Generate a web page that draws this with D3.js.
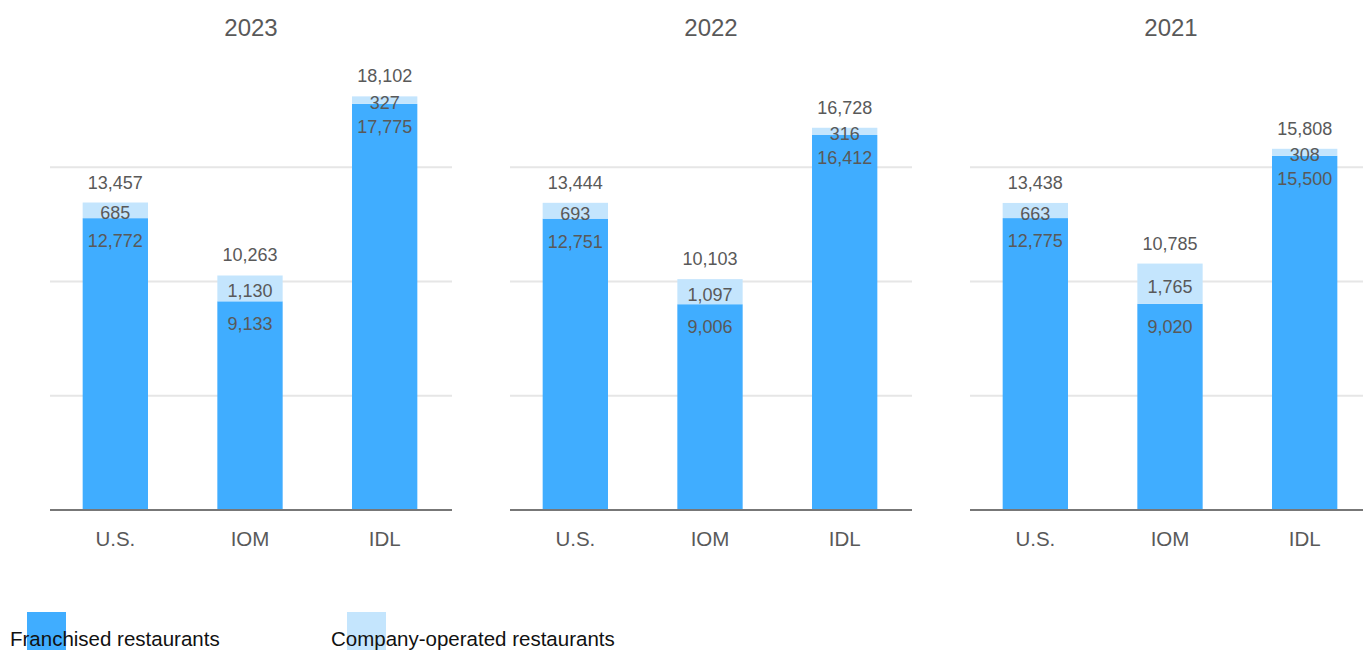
<!DOCTYPE html>
<html>
<head>
<meta charset="utf-8">
<script src="https://cdn.jsdelivr.net/npm/d3@7"></script>
<style>
  html, body { margin: 0; padding: 0; background: #fff; overflow: hidden; }
  svg { display: block; font-family: "Liberation Sans", Arial, sans-serif; }
</style>
</head>
<body>
<svg id="chart" width="1363" height="650"></svg>
<script>
const years = ["2023", "2022", "2021"];
const categories = ["U.S.", "IOM", "IDL"];
const franchised = [
  [12772, 9133, 17775],
  [12751, 9006, 16412],
  [12775, 9020, 15500]
];
const companyOperated = [
  [685, 1130, 327],
  [693, 1097, 316],
  [663, 1765, 308]
];
const totals = [
  [13457, 10263, 18102],
  [13444, 10103, 16728],
  [13438, 10785, 15808]
];
const gridTicks = [5000, 10000, 15000];
const legendLabels = ["Franchised restaurants", "Company-operated restaurants"];

const colFr = "#40adff";
const colCo = "#c4e5fd";
const textCol = "#595959";
const fmt = d3.format(",");

const svg = d3.select("#chart");
const panelLefts = [50, 510, 970];
const panelWidth = 402;

const y = d3.scaleLinear().domain([0, 20000]).range([510, 53]);

years.forEach((yr, pi) => {
  const x0 = panelLefts[pi];
  const x = d3.scaleBand().domain(categories).range([x0, x0 + panelWidth])
    .paddingInner(0.515).paddingOuter(0.25);
  const g = svg.append("g");

  g.append("text").attr("x", x0 + panelWidth / 2).attr("y", 27)
    .attr("text-anchor", "middle").attr("dominant-baseline", "central")
    .attr("font-size", 24).attr("fill", textCol).text(yr);

  g.selectAll("line.grid").data(gridTicks).join("line")
    .attr("x1", x0).attr("x2", x0 + panelWidth)
    .attr("y1", d => y(d)).attr("y2", d => y(d))
    .attr("stroke", "#e6e6e6").attr("stroke-width", 2);

  categories.forEach((c, ci) => {
    const fr = franchised[pi][ci];
    const co = companyOperated[pi][ci];
    const tot = totals[pi][ci];
    const bx = x(c) - 1, bw = x.bandwidth(), cx = bx + bw / 2;
    g.append("rect").attr("x", bx).attr("width", bw)
      .attr("y", y(fr)).attr("height", y(0) - y(fr)).attr("fill", colFr);
    g.append("rect").attr("x", bx).attr("width", bw)
      .attr("y", y(fr + co)).attr("height", y(fr) - y(fr + co)).attr("fill", colCo);

    g.append("text").attr("x", cx).attr("y", y(fr) + 23)
      .attr("text-anchor", "middle").attr("dominant-baseline", "central")
      .attr("font-size", 18).attr("fill", textCol).text(fmt(fr));
    g.append("text").attr("x", cx).attr("y", (y(fr) + y(fr + co)) / 2 + 3)
      .attr("text-anchor", "middle").attr("dominant-baseline", "central")
      .attr("font-size", 18).attr("fill", textCol).text(fmt(co));
    g.append("text").attr("x", cx).attr("y", y(tot) - 20)
      .attr("text-anchor", "middle").attr("dominant-baseline", "central")
      .attr("font-size", 18).attr("fill", textCol).text(fmt(tot));

    g.append("text").attr("x", cx).attr("y", 538)
      .attr("text-anchor", "middle").attr("dominant-baseline", "central")
      .attr("font-size", 20.5).attr("fill", textCol).text(c);
  });

  g.append("line").attr("x1", x0).attr("x2", x0 + panelWidth)
    .attr("y1", y(0)).attr("y2", y(0))
    .attr("stroke", "#777").attr("stroke-width", 2);
});

const legendItems = [
  { label: legendLabels[0], color: colFr, sx: 27, tx: 10 },
  { label: legendLabels[1], color: colCo, sx: 347, tx: 331 }
];
const lg = svg.append("g");
lg.selectAll("rect").data(legendItems).join("rect")
  .attr("x", d => d.sx).attr("y", 612).attr("width", 39).attr("height", 40)
  .attr("fill", d => d.color);
lg.selectAll("text").data(legendItems).join("text")
  .attr("x", d => d.tx).attr("y", 638)
  .attr("dominant-baseline", "central")
  .attr("font-size", 20.5).attr("fill", "#111").text(d => d.label);
</script>
</body>
</html>
